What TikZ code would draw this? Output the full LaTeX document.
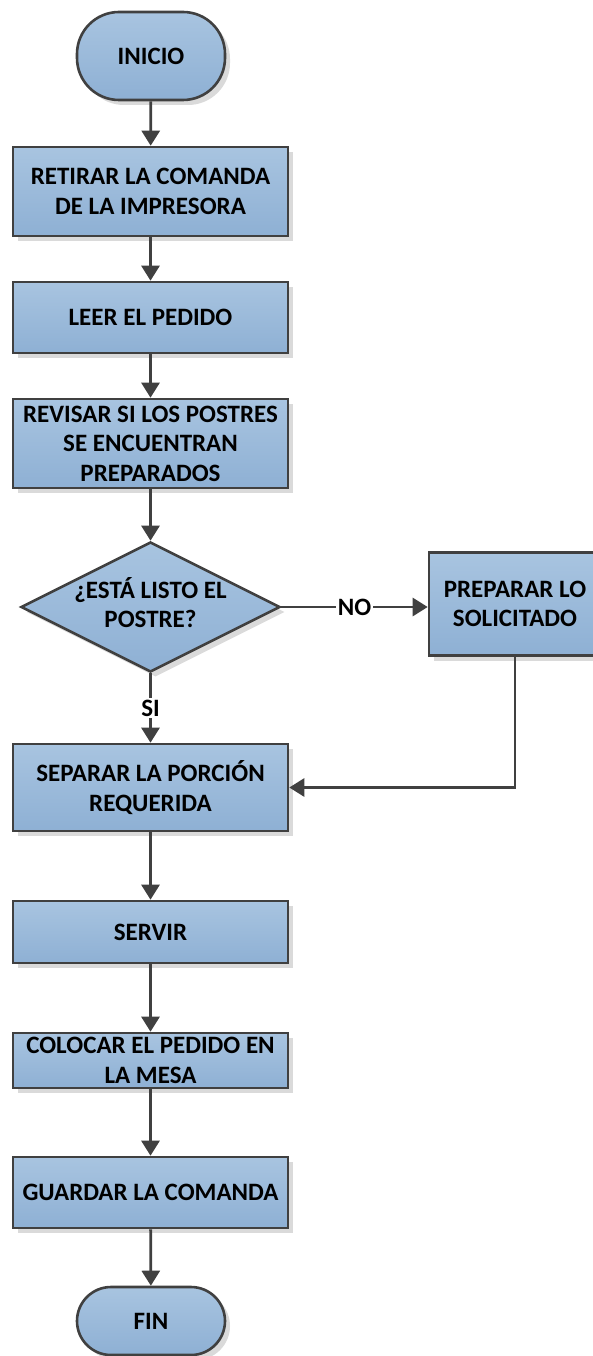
\documentclass[tikz,border=0pt]{standalone}
\usepackage{fontspec}
\setmainfont{Carlito}
\usetikzlibrary{arrows.meta,shapes.geometric,shadows}
\definecolor{boxtop}{HTML}{A8C4E0}
\definecolor{boxbot}{HTML}{8EB0D4}
\definecolor{edge}{HTML}{404040}
\definecolor{shade}{HTML}{DADADA}
\tikzset{
  base/.style={draw=edge, line width=2.6pt, top color=boxtop, bottom color=boxbot,
    drop shadow={shadow xshift=5pt, shadow yshift=-5pt, fill=shade, opacity=1},
    font=\fontsize{25}{29.5}\selectfont\bfseries, text=black, align=center, inner sep=0pt},
  procbox/.style={base, rectangle, minimum width=275pt},
  termbox/.style={base, rectangle, rounded corners=34pt, minimum width=148pt},
  decbox/.style={base, diamond, minimum width=259pt, minimum height=130pt},
  conn/.style={draw=edge, line width=2.8pt, -{Triangle[width=18pt,length=15pt]}},
  lbl/.style={fill=white, font=\fontsize{25}{29.5}\selectfont\bfseries, text=black, inner sep=2pt}
}
\begin{document}
\begin{tikzpicture}[x=1pt,y=-1pt]
\useasboundingbox[fill=white] (0,0) rectangle (593,1356);
\begin{scope}
\clip (0,0) rectangle (593,1356);
\node[termbox, minimum height=88pt, rounded corners=42pt] (ini) at (151,56) {INICIO};
\node[procbox, minimum height=89pt] (b1) at (150.5,191.5) {RETIRAR LA COMANDA\\DE LA IMPRESORA};
\node[procbox, minimum height=71pt] (b2) at (150.5,317.5) {LEER EL PEDIDO};
\node[procbox, minimum height=89pt] (b3) at (150.5,443.5) {REVISAR SI LOS POSTRES\\SE ENCUENTRAN\\PREPARADOS};
\node[decbox] (dec) at (150.5,607) {\smash{\makebox[0pt]{\raisebox{-6pt}{\begin{tabular}{@{}c@{}}¿ESTÁ LISTO EL\\[-1pt]POSTRE?\end{tabular}}}}};
\node[procbox, minimum width=172pt, minimum height=103pt] (prep) at (515,604) {PREPARAR LO\\SOLICITADO};
\node[procbox, minimum height=87pt] (sep) at (150.5,787.5) {SEPARAR LA PORCIÓN\\REQUERIDA};
\node[procbox, minimum height=62pt] (serv) at (150.5,932) {SERVIR};
\node[procbox, minimum height=55pt] (col) at (150.5,1060.5) {COLOCAR EL PEDIDO EN\\LA MESA};
\node[procbox, minimum height=71pt] (guar) at (150.5,1192.5) {GUARDAR LA COMANDA};
\node[termbox, minimum height=68pt] (fin) at (151,1321) {FIN};

\draw[conn] (ini) -- (b1);
\draw[conn] (b1) -- (b2);
\draw[conn] (b2) -- (b3);
\draw[conn] (b3) -- (dec);
\draw[conn] (dec.east) -- node[lbl] {NO} (dec.east -| prep.west);
\draw[conn] (dec.south) -- node[lbl] {SI} (sep.north);
\draw[conn] (prep.south) |- (sep.east);
\draw[conn] (sep) -- (serv);
\draw[conn] (serv) -- (col);
\draw[conn] (col) -- (guar);
\draw[conn] (guar) -- (fin);
\end{scope}
\end{tikzpicture}
\end{document}
